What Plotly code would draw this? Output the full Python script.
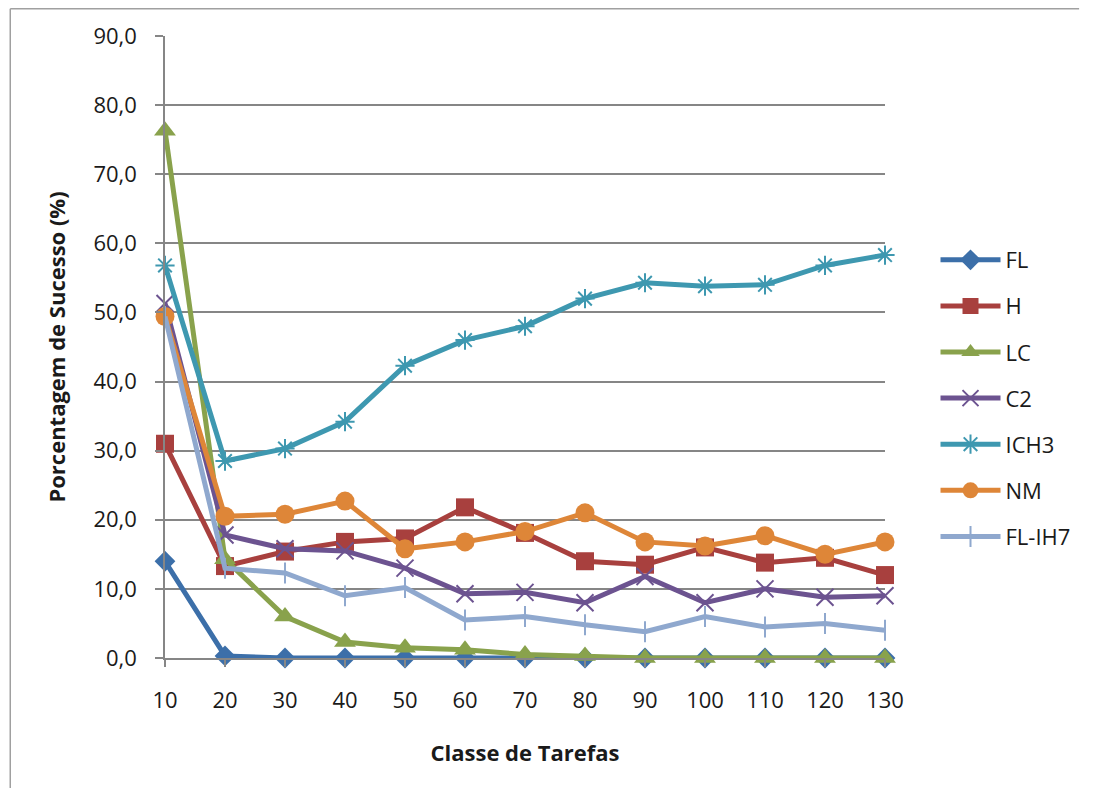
import plotly.graph_objects as go

classes = [10, 20, 30, 40, 50, 60, 70, 80, 90, 100, 110, 120, 130]
fl = [14.0, 0.3, 0.0, 0.0, 0.0, 0.0, 0.0, 0.0, 0.0, 0.0, 0.0, 0.0, 0.0]
h = [31.0, 13.3, 15.4, 16.8, 17.3, 21.8, 18.1, 14.0, 13.5, 16.0, 13.8, 14.5, 12.0]
lc = [76.3, 14.3, 6.0, 2.3, 1.5, 1.2, 0.5, 0.3, 0.0, 0.0, 0.0, 0.0, 0.0]
c2 = [51.3, 17.8, 15.8, 15.5, 13.0, 9.3, 9.5, 8.0, 11.8, 8.0, 10.0, 8.8, 9.0]
ich3 = [56.8, 28.5, 30.3, 34.2, 42.3, 46.0, 48.0, 52.0, 54.3, 53.8, 54.0, 56.8, 58.3]
nm = [49.4, 20.5, 20.8, 22.7, 15.8, 16.8, 18.3, 21.0, 16.8, 16.2, 17.7, 15.0, 16.8]
flih7 = [49.4, 13.0, 12.3, 9.0, 10.2, 5.5, 6.0, 4.8, 3.8, 6.0, 4.5, 5.0, 4.0]

series = [
    ("FL", fl, "#3C6FA9", "diamond", 16, 0),
    ("H", h, "#A8403E", "square", 18, 0),
    ("LC", lc, "#89A24C", "triangle-up", 19, 0),
    ("C2", c2, "#6C5390", "x-thin-open", 17, 2),
    ("ICH3", ich3, "#3E98B0", "asterisk-open", 16, 2),
    ("NM", nm, "#DE8638", "circle", 19, 0),
    ("FL-IH7", flih7, "#8FA8CE", "line-ns-open", 15, 2),
]

fig = go.Figure()
for name, vals, color, sym, size, lw in series:
    fig.add_trace(go.Scatter(
        x=classes, y=vals, name=name, mode="lines+markers",
        line=dict(color=color, width=5),
        marker=dict(symbol=sym, size=size, color=color,
                    line=dict(color=color, width=lw)),
        cliponaxis=False, legendgroup=name,
    ))

axis_color = "#868686"
font_family = "'Open Sans', sans-serif"

W, H = 1080, 780
L, R, T, B = 157, 196, 28, 130
pw, ph = W - L - R, H - T - B

fig.update_layout(
    width=W, height=H,
    margin=dict(l=L, r=R, t=T, b=B),
    paper_bgcolor="white", plot_bgcolor="white",
    separators=",.",
    font=dict(family=font_family, size=22, color="#1a1a1a"),
    showlegend=True,
    legend=dict(x=(943 - 165) / pw, xanchor="left", y=(650 - 231) / ph, yanchor="top",
                font=dict(size=22), tracegroupgap=14.5, itemwidth=60,
                bgcolor="rgba(0,0,0,0)"),
    xaxis=dict(
        range=[10, 130], tickvals=classes, ticktext=[str(c) for c in classes],
        showgrid=False, showline=True, linecolor=axis_color, linewidth=1.5,
        ticks="outside", ticklen=7, tickcolor=axis_color, tickwidth=1.5,
        zeroline=False, ticklabelstandoff=15,
        title=dict(text="<b>Classe de Tarefas</b>", font=dict(size=22), standoff=32),
        tickfont=dict(size=22),
    ),
    yaxis=dict(
        range=[0, 90], tickvals=[0, 10, 20, 30, 40, 50, 60, 70, 80, 90],
        tickformat=".1f",
        showgrid=True, gridcolor=axis_color, gridwidth=1.5,
        showline=True, linecolor=axis_color, linewidth=1.5,
        ticks="outside", ticklen=8, tickcolor=axis_color, tickwidth=1.5,
        zeroline=False, ticklabelstandoff=14,
        title=dict(text="<b>Porcentagem de Sucesso (%)</b>", font=dict(size=22), standoff=22),
        tickfont=dict(size=22),
    ),
)

x_left = (0.75 - L) / pw
x_right = (W - L) / pw
y_top = (ph + T - 0.75) / ph
y_bottom = -B / ph
fig.add_shape(type="line", xref="paper", yref="paper",
              x0=x_left, x1=x_right, y0=y_top, y1=y_top,
              line=dict(color="#A0A0A0", width=1.5), layer="below")
fig.add_shape(type="line", xref="paper", yref="paper",
              x0=x_left, x1=x_left, y0=y_bottom, y1=y_top,
              line=dict(color="#A0A0A0", width=1.5), layer="below")

fig.write_html("out.html")
